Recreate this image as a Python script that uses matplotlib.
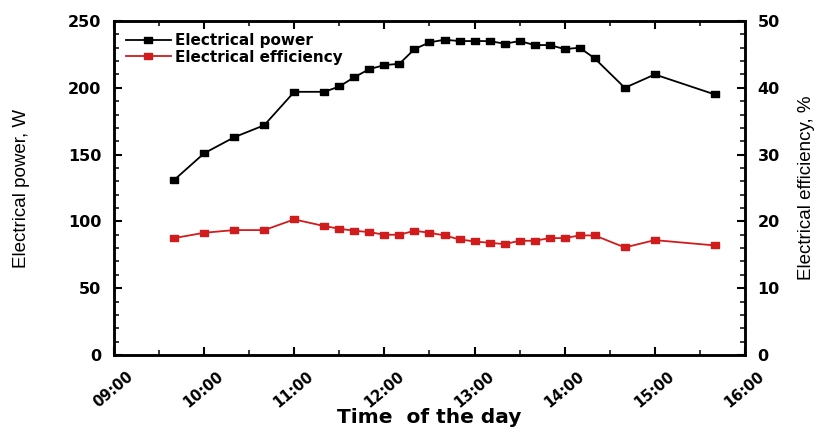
import numpy as np
import matplotlib.pyplot as plt
import matplotlib.transforms as mtransforms
from matplotlib.ticker import MultipleLocator

plt.rcParams['font.family'] = ['DejaVu Sans']

times = ["09:40", "10:00", "10:20", "10:40", "11:00", "11:20", "11:30", "11:40",
         "11:50", "12:00", "12:10", "12:20", "12:30", "12:40", "12:50", "13:00",
         "13:10", "13:20", "13:30", "13:40", "13:50", "14:00", "14:10", "14:20",
         "14:40", "15:00", "15:40"]
power = [131, 151, 163, 172, 197, 197, 201, 208, 214, 217, 218, 229, 234, 236,
         235, 235, 235, 233, 235, 232, 232, 229, 230, 222, 200, 210, 195]
efficiency = [17.5, 18.3, 18.7, 18.7, 20.3, 19.3, 18.9, 18.6, 18.4, 18.0, 18.0,
              18.6, 18.3, 17.9, 17.3, 17.0, 16.8, 16.6, 17.1, 17.1, 17.5, 17.5,
              17.9, 17.9, 16.1, 17.2, 16.4]
hour_labels = ["09:00", "10:00", "11:00", "12:00", "13:00", "14:00", "15:00", "16:00"]


def to_hours(s):
    h, m = s.split(":")
    return int(h) + int(m) / 60


t = np.array([to_hours(s) for s in times])
red = '#d01c1c'
# slightly flat rectangle marker, like in the original
rect = [(-1, -0.72), (1, -0.72), (1, 0.72), (-1, 0.72), (-1, -0.72)]
label_font = ['Liberation Sans', 'DejaVu Sans']

fig = plt.figure(figsize=(8.22, 4.29), dpi=100)
ax = fig.add_axes([0.1387, 0.1725, 0.9063 - 0.1387, 0.951 - 0.1725])
ax2 = ax.twinx()

l1, = ax.plot(t, power, color='black', lw=1.3, marker=rect, ms=6.4,
              label="Electrical power")
l2, = ax2.plot(t, efficiency, color=red, lw=1.3, marker=rect, ms=6.4,
               label="Electrical efficiency")

ax.set_xlim(9, 16)
ax.set_ylim(0, 250)
ax2.set_ylim(0, 50)
ax.set_xticks([to_hours(s) for s in hour_labels])
ax.set_xticklabels(hour_labels, rotation=40, ha='right', va='top',
                   rotation_mode='anchor')
ax.xaxis.set_minor_locator(MultipleLocator(0.5))
ax.yaxis.set_major_locator(MultipleLocator(50))
ax.yaxis.set_minor_locator(MultipleLocator(10))
ax2.yaxis.set_major_locator(MultipleLocator(10))
ax2.yaxis.set_minor_locator(MultipleLocator(2))

for a in (ax, ax2):
    for sp in a.spines.values():
        sp.set_linewidth(1.8)
    a.tick_params(which='major', direction='in', length=6, width=1.5, pad=9)
    a.tick_params(which='minor', direction='in', length=3.5, width=1.1)
    for lab in a.get_yticklabels():
        lab.set_fontweight('bold')
        lab.set_fontsize(11.5)
for lab in ax.get_xticklabels():
    lab.set_fontweight('bold')
    lab.set_fontsize(10.5)
ax.tick_params(which='both', top=True)
ax.tick_params(axis='x', pad=10)

shift = mtransforms.ScaledTranslation(9 / 72, 0, fig.dpi_scale_trans)
for lab in ax.get_xticklabels():
    lab.set_transform(lab.get_transform() + shift)

ax.set_xlabel("Time  of the day", fontsize=14.5, fontweight='bold')
ax.xaxis.set_label_coords(0.5, -0.16)
ax.set_ylabel("Electrical power, W", fontsize=13.5, family=label_font)
ax.yaxis.set_label_coords(-0.133, 0.5)
ax2.set_ylabel("Electrical efficiency, %", fontsize=13.5, family=label_font,
               rotation=90)
ax2.yaxis.set_label_coords(1.084, 0.5)

ax.legend(handles=[l1, l2], loc='upper left', frameon=False,
          handlelength=2.9, handletextpad=0.3, borderaxespad=0.4,
          labelspacing=0.1, prop={'weight': 'bold', 'size': 11})

fig.savefig("out.png", dpi=100)
